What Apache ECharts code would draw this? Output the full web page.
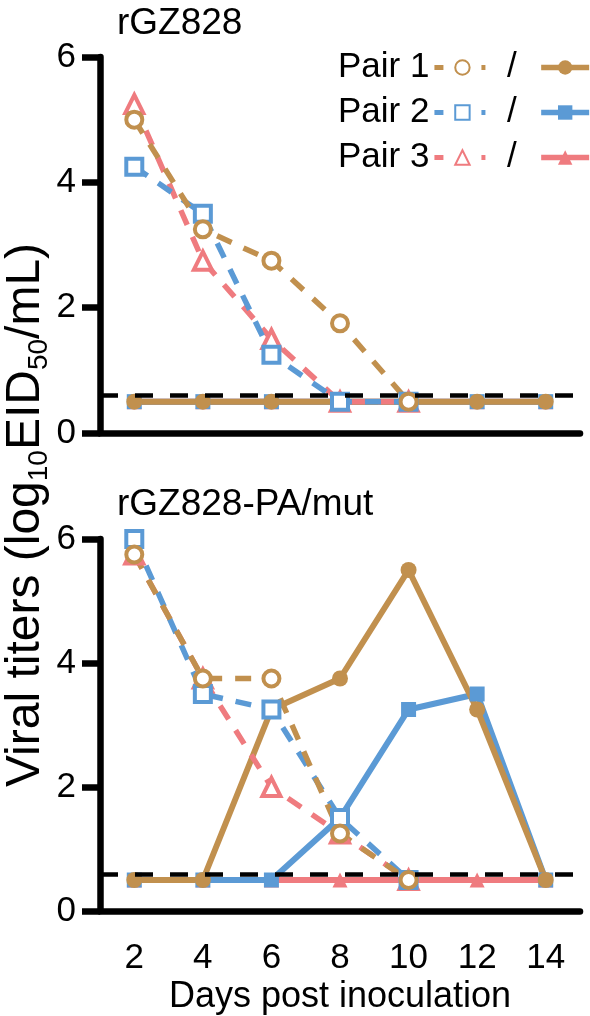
<!DOCTYPE html>
<html>
<head>
<meta charset="utf-8">
<script src="https://cdn.jsdelivr.net/npm/echarts@6/dist/echarts.min.js"></script>
<style>
  html, body { margin: 0; padding: 0; background: #fff; }
  #main { width: 590px; height: 1016px; }
</style>
</head>
<body>
<div id="main"></div>
<script>
// days on the x axis
var days = ['2', '4', '6', '8', '10', '12', '14'];
var yTicks = [0, 2, 4, 6];
var detectLimit = 0.6;

// rGZ828 (top panel)
var topPair1Dash = [5.0, 3.25, 2.75, 1.75, 0.5];
var topPair2Dash = [4.25, 3.5, 1.25, 0.5, 0.5];
var topPair3Dash = [5.25, 2.75, 1.5, 0.5, 0.5];
var topPair1Solid = [0.5, 0.5, 0.5, 0.5, 0.5, 0.5, 0.5];
var topPair2Solid = [0.5, 0.5, 0.5, 0.5, 0.5, 0.5, 0.5];
var topPair3Solid = [0.5, 0.5, 0.5, 0.5, 0.5, 0.5, 0.5];

// rGZ828-PA/mut (bottom panel)
var botPair1Dash = [5.75, 3.75, 3.75, 1.25, 0.5];
var botPair2Dash = [6.0, 3.5, 3.25, 1.5, 0.5];
var botPair3Dash = [5.75, 3.75, 2.0, 1.25, 0.5];
var botPair1Solid = [0.5, 0.5, 3.25, 3.75, 5.5, 3.25, 0.5];
var botPair2Solid = [0.5, 0.5, 0.5, 1.5, 3.25, 3.5, 0.5];
var botPair3Solid = [0.5, 0.5, 0.5, 0.5, 0.5, 0.5, 0.5];

var brown = '#C1904E';
var blue = '#5B9AD5';
var pink = '#EF7B7F';
var font = "'Liberation Sans', Arial, sans-serif";

var chart = echarts.init(document.getElementById('main'));

// open markers: white fill with a thick coloured border
function dashed(name, data, color, symbol, idx) {
  return {
    name: name, type: 'line', xAxisIndex: idx, yAxisIndex: idx, data: data,
    symbol: symbol, symbolSize: symbol === 'triangle' ? 18 : 16, z: 4,
    itemStyle: { color: '#fff', borderColor: color, borderWidth: 4 },
    lineStyle: { color: color, width: 5.5, type: [16, 13] },
    emphasis: { disabled: true }, animation: false
  };
}
function solid(name, data, color, symbol, idx) {
  return {
    name: name, type: 'line', xAxisIndex: idx, yAxisIndex: idx, data: data,
    symbol: symbol, symbolSize: symbol === 'circle' ? 16 : 15, z: 3,
    itemStyle: { color: color },
    lineStyle: { color: color, width: 6 },
    emphasis: { disabled: true }, animation: false
  };
}
function limitLine(idx) {
  return {
    name: 'limit' + idx, type: 'line', xAxisIndex: idx, yAxisIndex: idx, data: [],
    markLine: {
      silent: true, symbol: 'none', label: { show: false },
      lineStyle: { color: '#000', width: 4.5, type: [18, 17] },
      data: [{ yAxis: detectLimit }]
    },
    z: 2, animation: false
  };
}

function xAxis(idx, showLabels) {
  return {
    type: 'category', gridIndex: idx, data: days, boundaryGap: true,
    axisLine: { lineStyle: { color: '#000', width: 6.5 } },
    axisTick: { alignWithLabel: true, length: 16, lineStyle: { color: '#000', width: 6.5 } },
    axisLabel: { show: showLabels, color: '#000', fontSize: 35, margin: 30, fontFamily: font },
    splitLine: { show: false },
    name: showLabels ? 'Days post inoculation' : '',
    nameLocation: 'middle', nameGap: 68,
    nameTextStyle: { color: '#000', fontSize: 36, fontFamily: font }
  };
}
function yAxis(idx) {
  return {
    type: 'value', gridIndex: idx, min: 0, max: 6, interval: 2,
    axisLine: { show: true, lineStyle: { color: '#000', width: 6.5 } },
    axisTick: { show: true, length: 18, lineStyle: { color: '#000', width: 6.5 } },
    axisLabel: { color: '#000', fontSize: 35, margin: 24, fontFamily: font,
      formatter: function (v) { return yTicks.indexOf(v) > -1 ? String(v) : ''; } },
    splitLine: { show: false }
  };
}

function legendItem(name, dash) {
  return dash ? { name: name, lineStyle: { type: [9, 38, 4, 10], width: 5 } }
              : { name: name, lineStyle: { width: 5.5 } };
}

chart.setOption({
  backgroundColor: '#fff',
  textStyle: { fontFamily: font },
  title: [
    { text: 'rGZ828', left: 112, top: 0, textStyle: { fontSize: 37, fontWeight: 'normal', color: '#000', fontFamily: font } },
    { text: 'rGZ828-PA/mut', left: 112, top: 481, textStyle: { fontSize: 37, fontWeight: 'normal', color: '#000', fontFamily: font } }
  ],
  legend: [
    {
      data: [legendItem('Pair 1', true), legendItem('Pair 2', true), legendItem('Pair 3', true)],
      orient: 'vertical', align: 'right', left: 333, top: 45,
      itemWidth: 56, itemHeight: 18, itemGap: 10, selectedMode: false,
      textStyle: { fontSize: 35, color: '#000', fontFamily: font }
    },
    {
      data: [legendItem('Pair 1 solid'), legendItem('Pair 2 solid'), legendItem('Pair 3 solid')],
      orient: 'vertical', align: 'right', left: 502, top: 45,
      itemWidth: 48, itemHeight: 18, itemGap: 10, selectedMode: false,
      formatter: function () { return '/  '; },
      textStyle: { fontSize: 35, color: '#000', fontFamily: font }
    }
  ],
  grid: [
    { left: 100, right: 10, top: 57, height: 376 },
    { left: 100, right: 10, top: 539, height: 377 }
  ],
  xAxis: [xAxis(0, false), xAxis(1, true)],
  yAxis: [yAxis(0), yAxis(1)],
  graphic: [{
    type: 'text', x: 26, y: 515, rotation: Math.PI / 2,
    style: {
      text: 'Viral titers (log{sub|10}EID{sub|50}/mL)',
      fontSize: 48, fontFamily: font, fill: '#000',
      align: 'center', verticalAlign: 'middle',
      rich: { sub: { fontSize: 28, fontFamily: font, fill: '#000', padding: [26, 0, 0, 0] } }
    }
  }],
  series: [
    limitLine(0),
    solid('Pair 3 solid', topPair3Solid, pink, 'triangle', 0),
    solid('Pair 2 solid', topPair2Solid, blue, 'rect', 0),
    solid('Pair 1 solid', topPair1Solid, brown, 'circle', 0),
    dashed('Pair 3', topPair3Dash, pink, 'triangle', 0),
    dashed('Pair 2', topPair2Dash, blue, 'rect', 0),
    dashed('Pair 1', topPair1Dash, brown, 'circle', 0),
    limitLine(1),
    solid('Pair 3 solid', botPair3Solid, pink, 'triangle', 1),
    solid('Pair 2 solid', botPair2Solid, blue, 'rect', 1),
    solid('Pair 1 solid', botPair1Solid, brown, 'circle', 1),
    dashed('Pair 3', botPair3Dash, pink, 'triangle', 1),
    dashed('Pair 2', botPair2Dash, blue, 'rect', 1),
    dashed('Pair 1', botPair1Dash, brown, 'circle', 1)
  ]
});
</script>
</body>
</html>
